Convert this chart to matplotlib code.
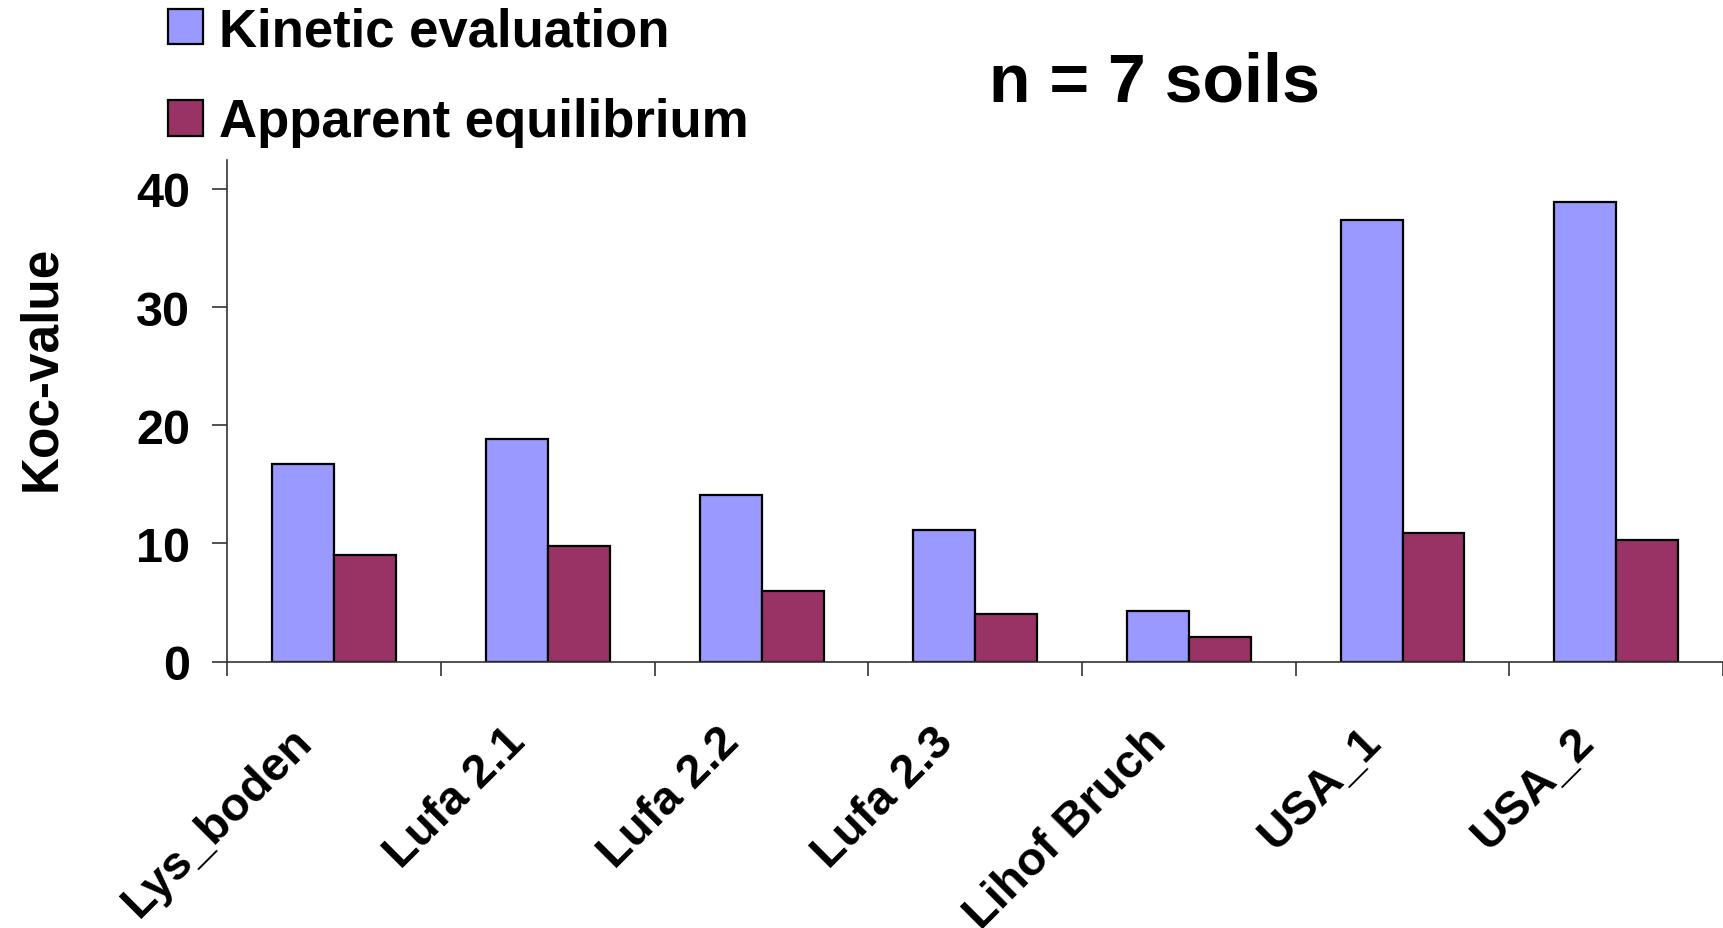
import numpy as np
import matplotlib
matplotlib.use("Agg")
import matplotlib.pyplot as plt
import matplotlib.transforms as mtransforms

plt.rcParams['font.family'] = ['Liberation Sans', 'DejaVu Sans']
plt.rcParams['font.weight'] = 'bold'

soils = ['Lys_boden', 'Lufa 2.1', 'Lufa 2.2', 'Lufa 2.3', 'Lihof Bruch', 'USA_1', 'USA_2']
kinetic = [16.7, 18.8, 14.1, 11.1, 4.3, 37.4, 38.9]
apparent = [9.0, 9.8, 6.0, 4.0, 2.1, 10.9, 10.3]
series_names = ['Kinetic evaluation', 'Apparent equilibrium']
y_ticks = [0, 10, 20, 30, 40]

fig = plt.figure(figsize=(17.23, 9.29), dpi=100)
ax = fig.add_axes([0.132, 0.2867, 0.868, 0.5395])

x = np.arange(len(soils))
w = 0.29
b1 = ax.bar(x - w / 2, kinetic, w, color='#9999FF', edgecolor='black', linewidth=1.6)
b2 = ax.bar(x + w / 2, apparent, w, color='#993366', edgecolor='black', linewidth=1.6)

ax.set_xlim(-0.5, len(soils) - 0.5)
ax.set_ylim(0, 42.4)

for s in ['top', 'right']:
    ax.spines[s].set_visible(False)
for s in ['left', 'bottom']:
    ax.spines[s].set_color('#333333')
    ax.spines[s].set_linewidth(1.2)

ax.set_yticks(y_ticks)
ax.set_yticklabels([str(v) for v in y_ticks], fontsize=35, fontweight='bold')
ax.tick_params(axis='y', direction='out', length=11, width=1.2, color='#333333', pad=16)

ax.set_xticks(np.arange(len(soils) + 1) - 0.5)
ax.set_xticklabels([])
ax.tick_params(axis='x', direction='out', length=10, width=1.2, color='#333333')

# rotated category labels, right end just left of the category centre
trans = mtransforms.blended_transform_factory(ax.transData, ax.transAxes)
for i, name in enumerate(soils):
    ax.text(i - 0.135, -0.145, name, transform=trans, rotation=45, ha='right', va='center',
            rotation_mode='anchor', fontsize=34, fontweight='bold', clip_on=False)

fig.text(0.024, 0.604, 'Koc-value', rotation=90, ha='center', va='center',
         fontsize=37, fontweight='bold')

fig.text(0.67, 0.891, 'n = 7 soils', ha='center', va='baseline', fontsize=49, fontweight='bold')

fig.legend([b1, b2], series_names, loc='upper left', bbox_to_anchor=(0.076, 1.032),
           frameon=False, handlelength=0.66, handleheight=0.66,
           handletextpad=0.3, labelspacing=0.78, borderpad=0.2,
           prop={'weight': 'bold', 'size': 38})

fig.savefig('out.png', dpi=100)
